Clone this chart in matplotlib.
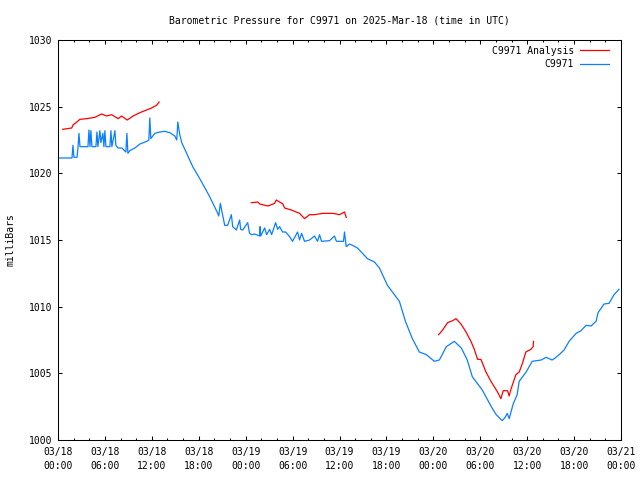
import numpy as np
import matplotlib
matplotlib.use("Agg")
import matplotlib.pyplot as plt

# hours since 2025-03-18 00:00 UTC, pressure in millibars
station_hours = [0.0, 1.79, 1.91, 2.04, 2.43, 2.55, 2.68, 2.81, 3.83, 3.96, 4.09, 4.21, 4.34,
                 4.85, 4.98, 5.1, 5.36, 5.49, 5.74, 5.87, 6.0, 6.13, 6.64, 6.77, 6.89, 7.28,
                 7.4, 7.66, 8.17, 8.68, 8.81, 8.94, 9.19, 9.83, 10.47, 11.36, 11.62, 11.74,
                 11.87, 12.38, 13.02, 13.66, 14.3, 14.94, 15.19, 15.32, 15.57, 15.83, 16.85,
                 17.23, 18.13, 19.4, 20.43, 20.55, 20.77, 20.94, 21.32, 21.7, 22.17, 22.34,
                 22.81, 23.23, 23.36, 23.62, 24.26, 24.5, 24.76, 25.15, 25.79, 25.85, 25.92,
                 26.43, 26.68, 27.07, 27.32, 27.83, 28.09, 28.34, 28.72, 29.11, 29.62, 29.99,
                 30.64, 30.89, 31.15, 31.53, 32.17, 32.81, 33.19, 33.45, 33.7, 34.72, 35.36,
                 35.61, 36.51, 36.64, 36.86, 37.28, 37.66, 38.3, 38.94, 39.58, 40.47, 41.11,
                 42.13, 42.9, 43.66, 44.43, 45.32, 46.21, 47.11, 48.13, 48.77, 49.66, 50.68,
                 51.58, 52.34, 52.98, 54.26, 55.41, 56.04, 56.81, 57.19, 57.45, 57.7, 58.21,
                 58.72, 58.98, 59.87, 60.64, 61.79, 62.43, 63.19, 63.58, 64.09, 64.72, 65.36,
                 66.26, 66.89, 67.53, 68.17, 68.81, 69.07, 69.83, 70.47, 71.11, 71.75]
station_mb = [1021.15, 1021.15, 1022.1, 1021.2, 1021.2, 1021.9, 1023.0, 1022.0, 1022.0, 1023.25,
              1022.0, 1023.2, 1022.0, 1022.0, 1023.1, 1022.0, 1023.2, 1022.3, 1023.0, 1022.0,
              1023.2, 1022.0, 1022.0, 1023.2, 1022.0, 1023.2, 1022.1, 1021.9, 1021.9, 1021.6,
              1023.0, 1021.5, 1021.7, 1021.9, 1022.2, 1022.4, 1022.5, 1024.15, 1022.6, 1023.0,
              1023.1, 1023.15, 1023.05, 1022.8, 1022.5, 1023.85, 1022.9, 1022.3, 1021.0, 1020.5,
              1019.6, 1018.25, 1017.0, 1016.8, 1017.75, 1017.2, 1016.1, 1016.1, 1016.9, 1016.0,
              1015.75, 1016.5, 1015.8, 1015.75, 1016.3, 1015.5, 1015.4, 1015.45, 1015.3, 1016.0,
              1015.3, 1015.9, 1015.4, 1015.8, 1015.4, 1016.3, 1015.8, 1016.0, 1015.6, 1015.6,
              1015.25, 1014.9, 1015.6, 1015.0, 1015.5, 1014.9, 1015.0, 1015.3, 1014.9, 1015.4,
              1014.9, 1014.95, 1015.3, 1014.9, 1014.9, 1015.6, 1014.5, 1014.7, 1014.6, 1014.4,
              1014.0, 1013.6, 1013.35, 1012.9, 1011.6, 1011.0, 1010.4, 1008.9, 1007.6, 1006.6,
              1006.4, 1005.9, 1006.0, 1007.0, 1007.4, 1006.9, 1006.0, 1004.75, 1003.75, 1002.5,
              1001.9, 1001.45, 1001.7, 1002.0, 1001.6, 1002.7, 1003.4, 1004.4, 1005.1, 1005.9,
              1006.0, 1006.2, 1006.0, 1006.15, 1006.4, 1006.75, 1007.4, 1008.0, 1008.2, 1008.6,
              1008.55, 1008.9, 1009.55, 1010.2, 1010.25, 1010.9, 1011.3]

# analysis series, NaN marks the gaps between runs
analysis_hours = [0.6, 1.75, 1.95, 2.3, 2.81, 3.66, 4.72, 5.58, 6.22, 6.86, 7.7, 8.13, 8.85, 9.61,
                  10.47, 11.32, 11.96, 12.6, 12.93, 13.0,
                  24.73, 25.57, 25.79, 26.85, 27.7, 27.92, 28.76, 28.98, 29.83, 30.89, 31.53,
                  32.17, 32.81, 33.87, 35.15, 36.0, 36.64, 36.86, 37.0,
                  48.68, 49.19, 49.83, 50.47, 50.9, 51.54, 52.18, 52.81, 53.24, 53.66, 54.09,
                  54.73, 55.37, 55.79, 56.21, 56.64, 56.94, 57.49, 57.7, 57.92, 58.56, 58.98,
                  59.4, 59.83, 60.47, 60.77, 60.81]
analysis_mb = [1023.3, 1023.4, 1023.65, 1023.8, 1024.05, 1024.1, 1024.2, 1024.45, 1024.3, 1024.4,
               1024.1, 1024.3, 1024.0, 1024.3, 1024.55, 1024.75, 1024.9, 1025.1, 1025.35, np.nan,
               1017.8, 1017.85, 1017.7, 1017.55, 1017.75, 1018.0, 1017.7, 1017.4, 1017.25, 1017.0,
               1016.6, 1016.9, 1016.9, 1017.0, 1017.0, 1016.9, 1017.1, 1016.7, np.nan,
               1007.9, 1008.25, 1008.8, 1008.95, 1009.1, 1008.7, 1008.1, 1007.4, 1006.8, 1006.05,
               1006.05, 1005.1, 1004.4, 1004.0, 1003.6, 1003.1, 1003.7, 1003.7, 1003.3, 1003.8,
               1004.9, 1005.1, 1005.75, 1006.6, 1006.8, 1007.0, 1007.4]

tick_hours = list(range(0, 73, 6))
tick_labels = ["03/18\n00:00", "03/18\n06:00", "03/18\n12:00", "03/18\n18:00",
               "03/19\n00:00", "03/19\n06:00", "03/19\n12:00", "03/19\n18:00",
               "03/20\n00:00", "03/20\n06:00", "03/20\n12:00", "03/20\n18:00",
               "03/21\n00:00"]
y_ticks = [1000, 1005, 1010, 1015, 1020, 1025, 1030]

plt.rcParams['font.family'] = ['DejaVu Sans Mono']
plt.rcParams['font.size'] = 7

fig = plt.figure(figsize=(6.4, 4.8), dpi=100)
ax = fig.add_axes([58 / 640, 40 / 480, 563 / 640, 400 / 480])

ax.plot(analysis_hours, analysis_mb, color='#ff0000', lw=0.9, label='C9971 Analysis')
ax.plot(station_hours, station_mb, color='#0a7fff', lw=0.9, label='C9971')

ax.set_xlim(0, 72)
ax.set_ylim(1000, 1030)
ax.set_xticks(tick_hours)
ax.set_xticklabels(tick_labels, linespacing=1.45)
ax.set_xticks(np.arange(0, 73, 2), minor=True)
ax.set_yticks(y_ticks)
ax.tick_params(direction='in', top=True, right=True, length=3.2, width=0.75)
ax.tick_params(axis='x', pad=5)
ax.tick_params(axis='y', pad=4)
ax.tick_params(axis='x', which='minor', direction='in', top=True, length=1.7, width=0.75)
ax.tick_params(axis='y', which='minor', left=False, right=False)
for s in ax.spines.values():
    s.set_linewidth(0.75)

ax.set_ylabel('milliBars', labelpad=10)
ax.set_title('Barometric Pressure for C9971 on 2025-Mar-18 (time in UTC)', fontsize=7, pad=12)

ax.legend(loc='upper right', bbox_to_anchor=(1 - 8 / 563, 1 - 2 / 400), borderaxespad=0,
          frameon=False, markerfirst=False, handlelength=3.0,
          handletextpad=0.6, labelspacing=0.35)

fig.savefig('out.png', dpi=100)
